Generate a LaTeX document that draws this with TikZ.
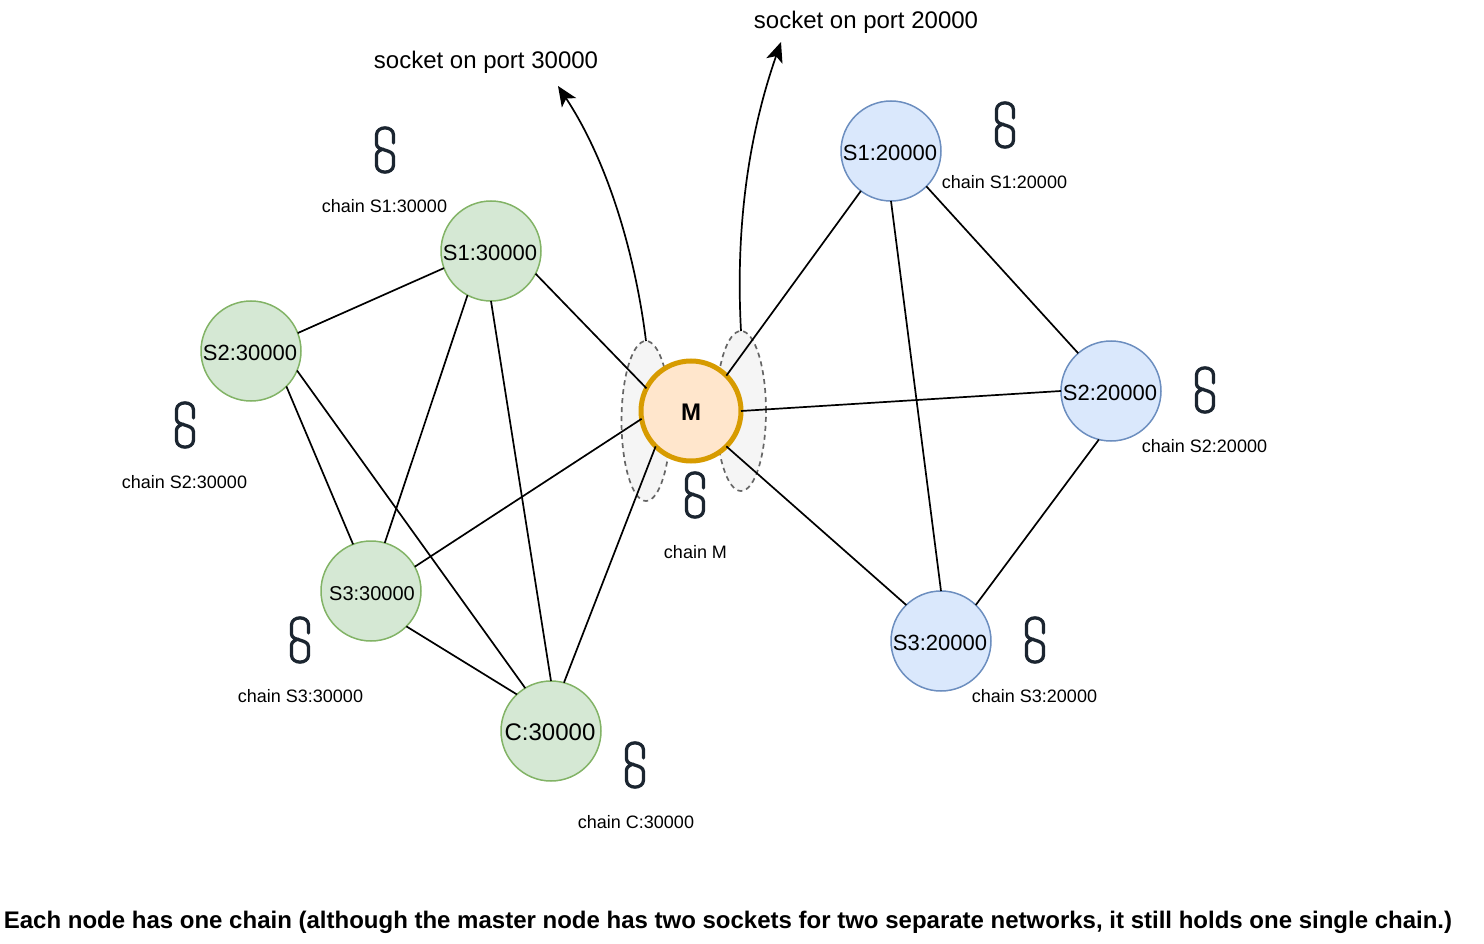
\documentclass[tikz,border=0pt]{standalone}
\usepackage{fontspec}
\setmainfont{Liberation Sans}
\usetikzlibrary{shapes.geometric,arrows.meta}
\definecolor{linkc}{HTML}{1B2530}
\newcommand{\fs}[1]{\fontsize{#1}{#1}\selectfont}
\newcommand{\nudged}[1]{\hspace*{-2pt}\raisebox{-2pt}[\height][0pt]{#1}}
\tikzset{
  peer/.style={circle,draw,line width=1.5pt,minimum size=100pt,inner sep=0pt,outer sep=0pt,text=black},
  greenpeer/.style={peer,fill={rgb,255:red,213;green,232;blue,212},draw={rgb,255:red,130;green,179;blue,102}},
  bluepeer/.style={peer,fill={rgb,255:red,218;green,232;blue,252},draw={rgb,255:red,108;green,142;blue,191},font=\fs{22}},
  master/.style={circle,draw={rgb,255:red,215;green,155;blue,0},fill={rgb,255:red,255;green,230;blue,204},line width=5pt,minimum size=100pt,inner sep=0pt,outer sep=0pt,font=\fs{24}\bfseries},
  sock/.style={ellipse,draw={rgb,255:red,102;green,102;blue,102},fill={rgb,255:red,245;green,245;blue,245},dash pattern=on 5pt off 4pt,line width=1.7pt,inner sep=0pt,outer sep=0pt},
  wire/.style={draw=black,line width=1.7pt},
  sockarrow/.style={wire,-{Stealth[length=20pt,width=17pt,inset=5pt]}},
  chainlabel/.style={font=\fs{18},anchor=base,inner sep=0pt},
  socklabel/.style={font=\fs{24},anchor=base,inner sep=0pt},
  link/.pic={
    \draw[linkc,line width=3.3pt,line cap=round,line join=round]
      (8.5,-7) -- (8.5,-15) .. controls (8.5,-24.5) and (-8.5,-24.5) .. (-8.5,-15) -- (-8.5,-6)
      .. controls (-8.5,1.5) and (8.5,-1.5) .. (8.5,7) -- (8.5,15)
      .. controls (8.5,24.5) and (-8.5,24.5) .. (-8.5,15) -- (-8.5,5)
      .. controls (-8.5,2) and (-5,0) .. (-1.5,-1);
  }
}
\begin{document}
\begin{tikzpicture}[x=1pt,y=-1pt]
\useasboundingbox (0,0) rectangle (1484,944);
% sockets
\node[sock,minimum width=49pt,minimum height=160pt] (sockL) at (646,421) {};
\node[sock,minimum width=50pt,minimum height=160pt] (sockR) at (741,411) {};
% peers
\node[greenpeer,font=\fs{22}] (s1a) at (491,251) {\nudged{S1:30000}};
\node[greenpeer,font=\fs{22}] (s2a) at (251,351) {\nudged{S2:30000}};
\node[greenpeer,font=\fs{20}] (s3a) at (371,591) {\hspace*{2pt}\raisebox{-3pt}[\height][0pt]{S3:30000}};
\node[greenpeer,font=\fs{24}] (ca) at (551,731) {\hspace*{-2pt}\raisebox{-1pt}[\height][0pt]{C:30000}};
\node[bluepeer] (s1b) at (891,151) {\nudged{S1:20000}};
\node[bluepeer] (s2b) at (1111,391) {\nudged{S2:20000}};
\node[bluepeer] (s3b) at (941,641) {\nudged{S3:20000}};
\node[master] (m) at (691,411) {\raisebox{-1pt}[\height][0pt]{M}};
% connectors
\draw[wire] (s1a.-27) -- (m.153);
\draw[wire] (s2a.21) -- (s1a.200);
\draw[wire] (s2a.-45) -- (s3a.111);
\draw[wire] (s2a.-23) -- (ca.121);
\draw[wire] (s1a.-118) -- (s3a.74);
\draw[wire] (s1a.-90) -- (ca.90);
\draw[wire] (s3a.29) -- (m.189);
\draw[wire] (s3a.-45) -- (ca.133);
\draw[wire] (ca.75) -- (m.225);
\draw[wire] (m.45) -- (s1b.233);
\draw[wire] (m.0) -- (s2b.180);
\draw[wire] (m.-45) -- (s3b.134);
\draw[wire] (s1b.-45) -- (s2b.131);
\draw[wire] (s1b.-90) -- (s3b.90);
\draw[wire] (s2b.256) -- (s3b.46);
% socket arrows
\coordinate (endL) at (558,86);
\coordinate (endR) at (781,42);
\draw[sockarrow] (sockL.90) .. controls (636,260) and (610,165) .. (endL);
\draw[sockarrow] (sockR.90) .. controls (736,240) and (745,145) .. (endR);
\node[socklabel] (lblL) at (486,68.5) {socket on port 30000};
\node[socklabel] (lblR) at (866,28.5) {socket on port 20000};
% chains
\pic at (385,150) {link};
\node[chainlabel] (c1a) at (384.5,212.5) {chain S1:30000};
\pic at (185,425) {link};
\node[chainlabel] (c2a) at (184.5,488) {chain S2:30000};
\pic at (300,640) {link};
\node[chainlabel] (c3a) at (300.5,702) {chain S3:30000};
\pic at (635,765) {link};
\node[chainlabel] (cca) at (636,828) {chain C:30000};
\pic at (695,495) {link};
\node[chainlabel] (cm) at (695.5,558) {chain M};
\pic at (1005,125) {link};
\node[chainlabel] (c1b) at (1004.5,188.5) {chain S1:20000};
\pic at (1205,390) {link};
\node[chainlabel] (c2b) at (1204.5,452) {chain S2:20000};
\pic at (1035,640) {link};
\node[chainlabel] (c3b) at (1034.5,702) {chain S3:20000};
\node[font=\fs{24}\bfseries,anchor=base,inner sep=0pt] (note) at (728,928) {Each node has one chain (although the master node has two sockets for two separate networks, it still holds one single chain.)};
\end{tikzpicture}
\end{document}
